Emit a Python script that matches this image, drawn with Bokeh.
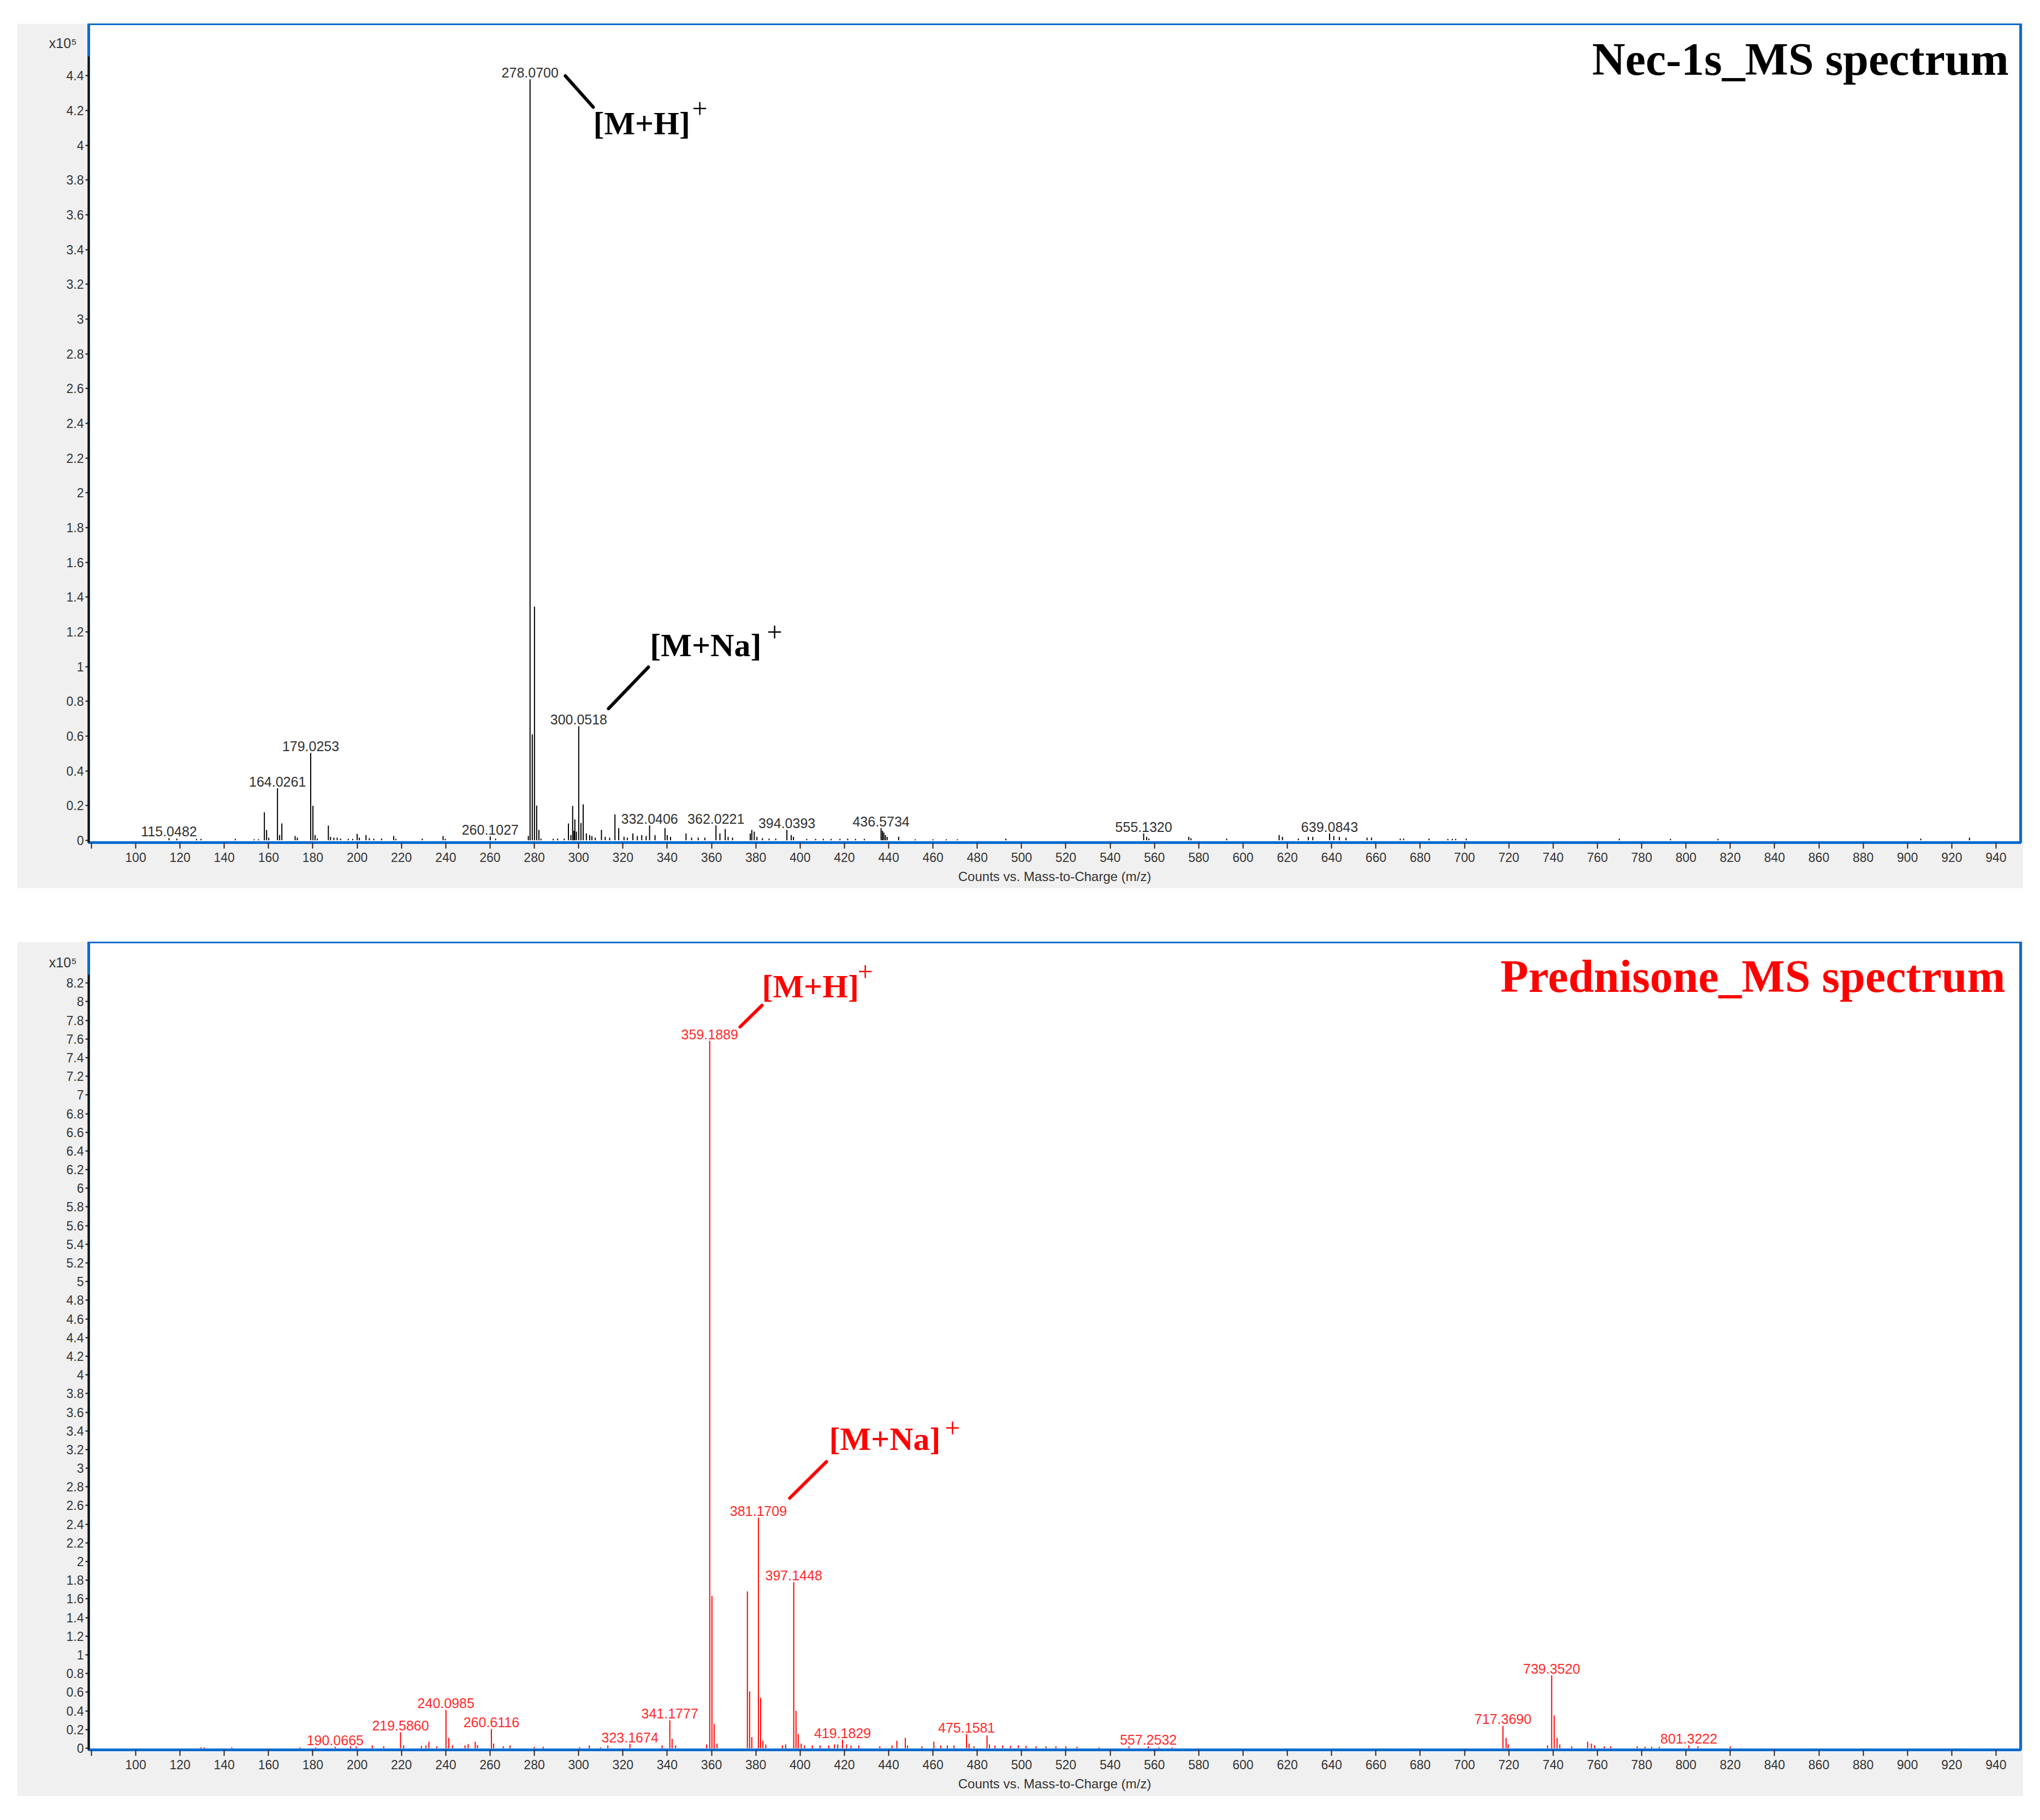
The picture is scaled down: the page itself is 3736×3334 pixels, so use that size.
from bokeh.plotting import figure
from bokeh.models import (Range1d, CustomJSTickFormatter, FixedTicker, ColumnDataSource,
                          LinearAxis)
from bokeh.layouts import column
from bokeh.core.properties import value
from bokeh.embed import file_html
from bokeh.resources import INLINE

# ---------------- data (intensity in units of 1e5 counts) ----------------
nec_mz = [115.05, 118.6, 127.5, 129.5, 145.0, 153.5, 155.5, 158.1, 159.1, 160.1,
          164.03, 165.0, 166.0, 172.0, 173.0, 179.03, 180.03, 181.0, 182.0, 187.0,
          188.0, 189.5, 191.0, 192.5, 196.0, 198.0, 200.0, 201.0, 204.0, 205.5,
          207.5, 211.0, 216.5, 217.5, 229.4, 238.8, 239.8, 260.10, 262.5, 277.3,
          278.07, 279.07, 280.07, 281.07, 282.07, 283.0, 288.5, 290.5, 293.5, 295.4,
          296.5, 297.3, 297.9, 298.3, 299.0, 300.05, 301.05, 302.05, 303.5, 305.0,
          306.0, 307.5, 310.3, 312.0, 314.0, 316.4, 318.1, 320.5, 322.0, 324.5,
          326.5, 328.5, 330.5, 332.04, 334.5, 339.0, 340.0, 341.5, 348.5, 351.0,
          354.0, 357.0, 362.02, 363.8, 366.2, 367.5, 369.5, 377.5, 378.2, 379.3,
          380.5, 383.0, 386.0, 389.0, 394.04, 396.0, 397.0, 403.0, 407.0, 410.5,
          414.0, 418.0, 421.5, 425.0, 429.0, 436.57, 437.2, 437.8, 438.5, 439.3,
          444.5, 452.0, 460.0, 466.0, 471.0, 492.9, 555.13, 556.5, 557.5, 575.5,
          576.5, 592.6, 616.3, 617.8, 625.0, 629.5, 631.5, 639.08, 641.0, 643.5,
          646.5, 656.0, 658.0, 671.0, 672.5, 684.0, 692.5, 694.5, 696.0, 700.8,
          769.9, 793.0, 814.5, 906.0, 928.0]
nec_int = [0.013, 0.010, 0.008, 0.008, 0.008, 0.006, 0.006, 0.161, 0.060, 0.015,
           0.300, 0.030, 0.097, 0.025, 0.015, 0.503, 0.199, 0.030, 0.010, 0.085,
           0.020, 0.015, 0.015, 0.010, 0.008, 0.008, 0.037, 0.015, 0.030, 0.012,
           0.010, 0.010, 0.025, 0.008, 0.010, 0.025, 0.008, 0.022, 0.010, 0.025,
           4.380, 0.610, 1.345, 0.200, 0.060, 0.010, 0.008, 0.010, 0.010, 0.097,
           0.030, 0.198, 0.055, 0.120, 0.050, 0.657, 0.100, 0.207, 0.040, 0.030,
           0.025, 0.015, 0.060, 0.020, 0.015, 0.149, 0.070, 0.020, 0.015, 0.040,
           0.025, 0.030, 0.025, 0.086, 0.030, 0.070, 0.030, 0.020, 0.040, 0.015,
           0.015, 0.015, 0.086, 0.040, 0.065, 0.020, 0.015, 0.040, 0.060, 0.050,
           0.020, 0.012, 0.010, 0.010, 0.060, 0.030, 0.020, 0.008, 0.008, 0.008,
           0.008, 0.008, 0.010, 0.008, 0.008, 0.070, 0.055, 0.045, 0.030, 0.020,
           0.020, 0.006, 0.006, 0.006, 0.006, 0.010, 0.040, 0.020, 0.010, 0.020,
           0.012, 0.010, 0.030, 0.020, 0.010, 0.020, 0.020, 0.040, 0.025, 0.020,
           0.015, 0.015, 0.015, 0.010, 0.010, 0.010, 0.008, 0.008, 0.008, 0.010,
           0.010, 0.008, 0.008, 0.010, 0.015]
nec_label_mz = [115.05, 164.03, 179.03, 260.10, 278.07, 300.05, 332.04, 362.02,
                394.04, 436.57, 555.13, 639.08]
nec_label_int = [0.013, 0.300, 0.503, 0.022, 4.380, 0.657, 0.086, 0.086,
                 0.060, 0.070, 0.040, 0.040]
nec_label_text = ["115.0482", "164.0261", "179.0253", "260.1027", "278.0700", "300.0518",
                  "332.0406", "362.0221", "394.0393", "436.5734", "555.1320", "639.0843"]

pred_mz = [129.5, 131.0, 143.4, 174.2, 181.3, 190.07, 197.0, 199.6, 206.8, 212.0,
           219.59, 221.0, 229.0, 231.0, 232.4, 236.0, 240.10, 241.4, 243.0, 248.7,
           250.1, 253.3, 254.3, 260.61, 261.6, 266.0, 269.0, 280.0, 284.0, 300.5,
           304.8, 310.0, 313.2, 323.17, 337.7, 341.18, 342.2, 343.8, 357.8, 359.19,
           360.19, 361.19, 362.5, 376.2, 377.2, 378.2, 381.17, 382.17, 383.2, 384.5,
           392.0, 393.5, 397.14, 398.15, 399.15, 400.5, 402.0, 405.5, 409.0, 413.0,
           415.5, 417.0, 419.18, 421.0, 423.0, 426.5, 436.0, 441.5, 443.7, 447.5,
           448.5, 455.0, 460.4, 463.5, 466.5, 469.5, 475.16, 476.3, 478.5, 484.4,
           485.5, 488.0, 491.5, 495.0, 498.5, 502.0, 506.5, 511.0, 515.5, 520.0,
           525.0, 535.0, 548.5, 557.25, 562.0, 568.0, 717.37, 718.8, 719.7, 737.5,
           739.35, 740.5, 741.8, 743.0, 748.4, 755.6, 757.3, 758.7, 763.1, 766.0,
           778.0, 781.5, 784.5, 788.0, 801.32, 805.4, 820.0]
pred_int = [0.010, 0.010, 0.010, 0.010, 0.010, 0.015, 0.020, 0.020, 0.030, 0.020,
            0.170, 0.030, 0.025, 0.030, 0.070, 0.020, 0.410, 0.110, 0.030, 0.030,
            0.045, 0.070, 0.035, 0.206, 0.050, 0.020, 0.030, 0.015, 0.015, 0.010,
            0.030, 0.010, 0.030, 0.046, 0.030, 0.300, 0.100, 0.030, 0.040, 7.580,
            1.630, 0.260, 0.050, 1.680, 0.610, 0.120, 2.470, 0.540, 0.080, 0.040,
            0.030, 0.040, 1.780, 0.400, 0.150, 0.050, 0.030, 0.030, 0.030, 0.030,
            0.040, 0.040, 0.090, 0.040, 0.030, 0.030, 0.020, 0.030, 0.080, 0.110,
            0.030, 0.020, 0.070, 0.030, 0.030, 0.030, 0.150, 0.050, 0.020, 0.137,
            0.040, 0.030, 0.030, 0.025, 0.030, 0.025, 0.020, 0.020, 0.020, 0.020,
            0.015, 0.010, 0.020, 0.020, 0.010, 0.010, 0.240, 0.110, 0.040, 0.030,
            0.780, 0.350, 0.110, 0.040, 0.020, 0.070, 0.050, 0.030, 0.020, 0.020,
            0.020, 0.015, 0.015, 0.015, 0.030, 0.020, 0.020]
pred_label_mz = [190.07, 219.59, 240.10, 260.61, 323.17, 341.18, 359.19, 381.17,
                 397.14, 419.18, 475.16, 557.25, 717.37, 739.35, 801.32]
pred_label_int = [0.015, 0.170, 0.410, 0.206, 0.046, 0.300, 7.580, 2.470,
                  1.780, 0.090, 0.150, 0.020, 0.240, 0.780, 0.030]
pred_label_text = ["190.0665", "219.5860", "240.0985", "260.6116", "323.1674", "341.1777",
                   "359.1889", "381.1709", "397.1448", "419.1829", "475.1581", "557.2532",
                   "717.3690", "739.3520", "801.3222"]

x_ticks = list(range(80, 941, 20))
nec_y_ticks = [round(i * 0.2, 1) for i in range(23)]
pred_y_ticks = [round(i * 0.2, 1) for i in range(42)]
scale_label = "x10\u2075"

X_START, X_END = 78.8, 951.1
GRAY = "#f0f0f0"
BLUE = "#0a6ccf"
SANS = "Liberation Sans"
SERIF = "Liberation Serif"


def make_fig(mz, inten, lab_mz, lab_int, lab_txt, color, lab_color, y_end, y_ticks,
             y_bound_top, scale_y, height, border_left, border_bottom, margin):
    y_start = -0.013 if y_end < 6 else -0.018
    p = figure(width=3674, height=height, output_backend="svg", toolbar_location=None,
               x_range=Range1d(X_START, X_END), y_range=Range1d(y_start, y_end),
               min_border_left=border_left, min_border_right=5, min_border_top=0,
               min_border_bottom=border_bottom, background_fill_color="white",
               border_fill_color=GRAY)
    p.margin = margin
    p.outline_line_color = BLUE
    p.outline_line_width = 5
    p.xgrid.visible = False
    p.ygrid.visible = False

    # x axis
    xa = p.xaxis[0]
    xa.ticker = FixedTicker(ticks=x_ticks)
    xa.formatter = CustomJSTickFormatter(code="return tick < 90 ? '' : String(Math.round(tick));")
    xa.axis_line_color = BLUE
    xa.axis_line_width = 5
    xa.major_tick_line_color = "#222222"
    xa.major_tick_line_width = 2
    xa.major_tick_out = 11
    xa.major_tick_in = 0
    xa.minor_tick_line_color = None
    xa.major_label_text_font = SANS
    xa.major_label_text_font_size = "23px"
    xa.major_label_text_color = "#333333"
    xa.major_label_standoff = 7
    xa.axis_label = "Counts vs. Mass-to-Charge (m/z)"
    xa.axis_label_text_font = SANS
    xa.axis_label_text_font_size = "24px"
    xa.axis_label_text_font_style = "normal"
    xa.axis_label_text_color = "#333333"
    xa.axis_label_standoff = 10

    # y axis
    ya = p.yaxis[0]
    ya.ticker = FixedTicker(ticks=y_ticks)
    ya.formatter = CustomJSTickFormatter(code="return String(Math.round(tick * 10) / 10);")
    ya.bounds = (y_start, y_bound_top)
    ya.axis_line_color = "#111111"
    ya.axis_line_width = 3
    ya.major_tick_line_color = "#111111"
    ya.major_tick_line_width = 2
    ya.major_tick_out = 6
    ya.major_tick_in = 0
    ya.minor_tick_line_color = None
    ya.major_label_text_font = SANS
    ya.major_label_text_font_size = "23px"
    ya.major_label_text_color = "#333333"
    ya.major_label_standoff = 3

    # "x10^5" scale marker, drawn as the single label of an extra, line-less left axis
    sa = LinearAxis(ticker=FixedTicker(ticks=[scale_y]),
                    formatter=CustomJSTickFormatter(code="return '%s';" % scale_label))
    sa.axis_line_color = None
    sa.major_tick_line_color = None
    sa.minor_tick_line_color = None
    sa.major_label_standoff = -28
    sa.major_label_text_font = SANS
    sa.major_label_text_font_size = "25px"
    sa.major_label_text_color = "#333333"
    p.add_layout(sa, "left")

    # spectrum sticks
    src = ColumnDataSource(dict(x=mz, top=inten, base=[0.0] * len(mz)))
    p.segment(x0="x", y0="base", x1="x", y1="top", source=src,
              line_color=color, line_width=2)

    # peak labels
    lsrc = ColumnDataSource(dict(x=lab_mz, y=lab_int, t=lab_txt))
    p.text(x="x", y="y", text="t", source=lsrc, text_align="center",
           text_baseline="bottom", y_offset=-3, text_font=value(SANS),
           text_font_size="25px", text_color=lab_color)
    return p


top = make_fig(nec_mz, nec_int, nec_label_mz, nec_label_int, nec_label_text,
               "#000000", "#303030", 4.70, nec_y_ticks, 4.51, 4.59, 1584, 131, 84,
               (43, 0, 0, 31))
bot = make_fig(pred_mz, pred_int, pred_label_mz, pred_label_int, pred_label_text,
               "#ff0000", "#ff2a2a", 8.64, pred_y_ticks, 8.29, 8.42, 1565, 130, 85,
               (98, 0, 0, 31))


def annotate(p, color, title, title_x, title_y, mh_line, mh_text, mh_plus,
             mna_line, mna_text, mna_plus):
    p.text(x=[title_x], y=[title_y], text=[title], text_align="right",
           text_baseline="alphabetic", y_offset=-26, text_font=value(SERIF),
           text_font_size="84px", text_font_style="bold", text_color=color)
    for (lx, ly), (tx, ty), (px, py), txt in (
            (mh_line, mh_text, mh_plus, "[M+H]"),
            (mna_line, mna_text, mna_plus, "[M+Na]")):
        p.line(x=lx, y=ly, line_color=color, line_width=6, line_cap="round")
        p.text(x=[tx], y=[ty], text=[txt], text_align="left", text_baseline="alphabetic",
               y_offset=-21, text_font=value(SERIF), text_font_size="60px",
               text_font_style="bold", text_color=color)
        p.text(x=[px], y=[py], text=["+"], text_align="center", text_baseline="middle",
               text_font=value(SERIF), text_font_size="50px", text_color=color)


annotate(top, "#000000", "Nec-1s_MS spectrum", 945.7, 4.415,
         ([294.0, 306.6], [4.40, 4.22]), (306.6, 4.06), (354.7, 4.21),
         ([313.5, 331.5], [0.758, 0.997]), (332.2, 1.057), (388.5, 1.198))
annotate(bot, "#ff0000", "Prednisone_MS spectrum", 944.2, 8.12,
         ([372.9, 382.8], [7.73, 7.96]), (382.8, 8.04), (429.4, 8.32),
         ([395.3, 411.9], [2.68, 3.07]), (413.1, 3.19), (468.8, 3.43))

layout = column(top, bot)
open("out.html", "w").write(file_html(layout, INLINE))
